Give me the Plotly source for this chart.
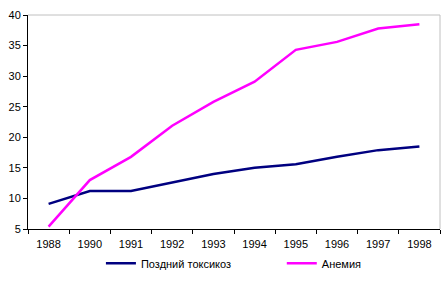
import plotly.graph_objects as go

years = ["1988", "1990", "1991", "1992", "1993", "1994", "1995", "1996", "1997", "1998"]
toxicosis = [9.1, 11.2, 11.2, 12.6, 14.0, 15.0, 15.6, 16.8, 17.9, 18.5]
anemia = [5.4, 13.0, 16.8, 21.9, 25.8, 29.1, 34.3, 35.6, 37.8, 38.5]
series_names = ["Поздний токсикоз", "Анемия"]

fig = go.Figure()
fig.add_trace(go.Scatter(x=years, y=toxicosis, mode="lines", name=series_names[0],
                         line=dict(color="#000080", width=2.5), legend="legend"))
fig.add_trace(go.Scatter(x=years, y=anemia, mode="lines", name=series_names[1],
                         line=dict(color="#FF00FF", width=2.5), legend="legend2"))

leg_common = dict(orientation="h", y=-0.16, xanchor="left", yanchor="middle",
                  font=dict(size=11), itemwidth=30, bgcolor="rgba(0,0,0,0)")

fig.update_layout(
    width=445, height=283,
    margin=dict(l=28, r=5, t=15, b=54),
    paper_bgcolor="white", plot_bgcolor="white",
    font=dict(family="Liberation Sans, Arial, sans-serif", size=11, color="black"),
    showlegend=True,
    legend=dict(x=0.177, **leg_common),
    legend2=dict(x=0.616, **leg_common),
    xaxis=dict(type="category", range=[-0.5, 9.5], tickson="boundaries",
               ticks="outside", ticklen=4, tickcolor="black",
               showline=True, linecolor="black", linewidth=1,
               showgrid=False, zeroline=False, ticklabelstandoff=5),
    yaxis=dict(range=[5, 40], dtick=5, ticks="outside", ticklen=4, tickcolor="black",
               showline=True, linecolor="black", linewidth=1,
               showgrid=False, zeroline=False),
    shapes=[
        dict(type="line", xref="paper", yref="paper", x0=0, x1=1, y0=1, y1=1,
             line=dict(color="#C0C0C0", width=1)),
        dict(type="line", xref="paper", yref="paper", x0=1, x1=1, y0=0, y1=1,
             line=dict(color="#C0C0C0", width=1)),
    ],
)

fig.write_html("out.html")
